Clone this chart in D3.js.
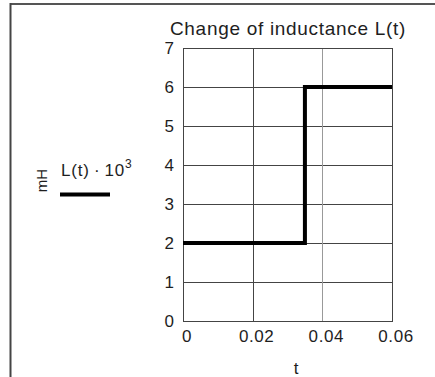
<!DOCTYPE html>
<html><head><meta charset="utf-8">
<script src="https://cdn.jsdelivr.net/npm/d3@7"></script>
<style>
html,body{margin:0;padding:0;background:#fff;}
svg{display:block;font-family:"Liberation Sans",Arial,sans-serif;}
</style></head>
<body>
<svg id="chart" width="435" height="377"></svg>
<script>
const times = [0, 0.035, 0.06];
const inductance = [2, 6, 6];
const xTicks = [0, 0.02, 0.04, 0.06];
const xTickLabels = ["0", "0.02", "0.04", "0.06"];
const yTicks = [0, 1, 2, 3, 4, 5, 6, 7];
const title = "Change of inductance L(t)";
const xLabel = "t";
const unitLabel = "mH";

(function () {
const svg = d3.select("#chart");
const pLeft = 183, pRight = 392, pTop = 48, pBottom = 321;
const x = d3.scaleLinear().domain([0, 0.06]).range([pLeft, pRight]);
const y = d3.scaleLinear().domain([0, 7]).range([pBottom, pTop]);
const txt = "#1e1e1e";

// outer frame
svg.append("line").attr("x1", 10).attr("x2", 435).attr("y1", 4).attr("y2", 4)
  .attr("stroke", "#555").attr("stroke-width", 2);
svg.append("line").attr("x1", 10.5).attr("x2", 10.5).attr("y1", 3).attr("y2", 377)
  .attr("stroke", "#444").attr("stroke-width", 2);

// grid
const g = svg.append("g");
g.selectAll("line.h").data(yTicks).join("line")
  .attr("x1", pLeft).attr("x2", pRight)
  .attr("y1", d => Math.round(y(d)) + 0.5).attr("y2", d => Math.round(y(d)) + 0.5)
  .attr("stroke", "#444").attr("stroke-width", 1);
g.selectAll("line.v").data(xTicks).join("line")
  .attr("y1", pTop).attr("y2", pBottom)
  .attr("x1", d => Math.round(x(d)) + 0.5).attr("x2", d => Math.round(x(d)) + 0.5)
  .attr("stroke", (d, i) => i === 2 ? "#999" : "#444").attr("stroke-width", 1);
g.append("rect").attr("x", pLeft + 0.5).attr("y", pTop + 0.5)
  .attr("width", pRight - pLeft).attr("height", pBottom - pTop)
  .attr("fill", "none").attr("stroke", "#444").attr("stroke-width", 1);

// step line
const pts = times.map((t, i) => [t, inductance[i]]);
svg.append("path").datum(pts)
  .attr("d", d3.line().x(d => x(d[0])).y(d => y(d[1])).curve(d3.curveStepAfter))
  .attr("fill", "none").attr("stroke", "#000").attr("stroke-width", 4)
  .attr("stroke-linejoin", "miter");

// y tick labels
svg.selectAll("text.yt").data(yTicks).join("text")
  .attr("x", 174).attr("y", d => y(d) + 6)
  .attr("text-anchor", "end").attr("font-size", 17).attr("fill", txt)
  .text(d => d);

// x tick labels
svg.selectAll("text.xt").data(xTicks).join("text")
  .attr("x", d => x(d) + 4).attr("y", 342)
  .attr("text-anchor", "middle").attr("font-size", 17).attr("letter-spacing", 0.6).attr("fill", txt)
  .text((d, i) => xTickLabels[i]);

// x label
svg.append("text").attr("x", 296).attr("y", 374).attr("text-anchor", "middle")
  .attr("font-size", 17).attr("fill", txt).text(xLabel);

// title
svg.append("text").attr("x", 288).attr("y", 35).attr("text-anchor", "middle")
  .attr("font-size", 19).attr("letter-spacing", 0.7).attr("fill", txt).text(title);

// y unit label
svg.append("text").attr("transform", "translate(47,180.5) rotate(-90)")
  .attr("text-anchor", "middle").attr("font-size", 15).attr("fill", txt).text(unitLabel);

// legend-like label
const lt = svg.append("text").attr("x", 61).attr("y", 176).attr("font-size", 17)
  .attr("letter-spacing", 0.8).attr("fill", txt);
lt.append("tspan").text("L(t)\u2009\u00B7\u200910");
lt.append("tspan").attr("dy", -8).attr("font-size", 12).text("3");
svg.append("line").attr("x1", 60).attr("x2", 110).attr("y1", 194.5).attr("y2", 194.5)
  .attr("stroke", "#000").attr("stroke-width", 4);
})();
</script>
</body></html>
